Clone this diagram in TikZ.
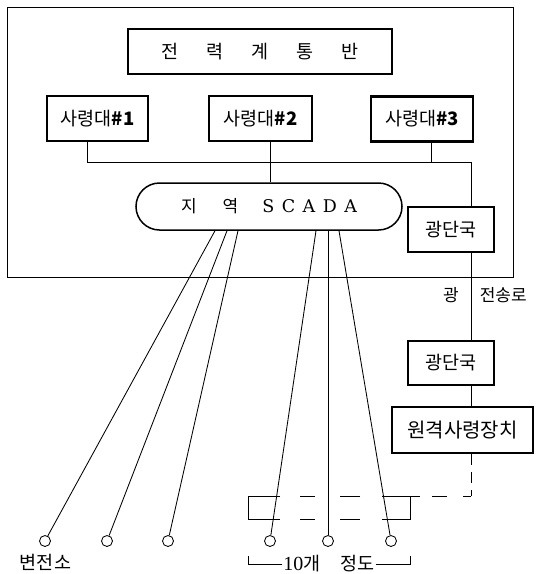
\documentclass[tikz,border=0pt]{standalone}
\usepackage{fontspec}
\newfontfamily\kr{Noto Sans CJK KR}
\newfontfamily\latserif{DejaVu Serif}
\newfontfamily\numserif{Liberation Serif}
\usetikzlibrary{shapes.misc}
\begin{document}
\begin{tikzpicture}[x=1pt,y=-1pt,
  box/.style={draw, line width=2.1pt, inner sep=0pt, font=\kr\fontsize{18.5}{20}\selectfont},
  thinline/.style={line width=0.85pt},
  stn/.style={draw, circle, line width=0.85pt, minimum size=11pt, inner sep=0pt},
  lbl/.style={inner sep=1pt, font=\kr\fontsize{18.5}{20}\selectfont}]
\useasboundingbox (0,0) rectangle (540,574);
% outer frame
\draw[thinline] (7,7) rectangle (513,277);
% boxes
\node[box, minimum width=264pt, minimum height=45pt] (title) at (260,51.5)
  {전\hspace{28pt}력\hspace{28pt}계\hspace{28pt}통\hspace{28pt}반};
\node[box, minimum width=101pt, minimum height=45pt] (s1) at (97.5,118.5) {사령대{\bfseries\#1}};
\node[box, minimum width=103pt, minimum height=45pt] (s2) at (260.5,118.5) {사령대{\bfseries\#2}};
\node[box, minimum width=102pt, minimum height=45pt] (s3) at (422,119) {사령대{\bfseries\#3}};
\node[draw, line width=1.5pt, rounded rectangle, minimum width=266pt, minimum height=47pt, inner sep=0pt] (scada) at (269,206.5)
  {{\kr\fontsize{17}{20}\selectfont 지\hspace{26pt}역}\hspace{24pt}{\latserif\fontsize{17.5}{20}\selectfont S\hspace{7.5pt}C\hspace{7.5pt}A\hspace{7.5pt}D\hspace{7.5pt}A}};
\node[box, minimum width=86pt, minimum height=45pt] (g1) at (451,229.5) {광단국};
\node[box, minimum width=86pt, minimum height=44pt] (g2) at (451,363) {광단국};
\node[box, minimum width=141pt, minimum height=46pt, font=\kr\fontsize{20}{22}\selectfont] (remote) at (462.5,430) {원격사령장치};
% stations
\node[stn] (c1) at (45,541) {};
\node[stn] (c2) at (107,541) {};
\node[stn] (c3) at (168,541) {};
\node[stn] (c4) at (270,541) {};
\node[stn] (c5) at (328,541) {};
\node[stn] (c6) at (391,541) {};
% labels
\node[lbl] (lsub) at (45.5,562) {변전소};
\node[lbl, font=\kr\fontsize{17}{18}\selectfont] (lopt) at (485,295) {광\hspace{21pt}전송로};
\node[lbl] (lcnt) at (329,564) {{\numserif\fontsize{20}{20}\selectfont 10}개\hspace{20pt}정도};
% bus
\coordinate (bus1) at (87,162);
\coordinate (bus2) at (471,162);
\draw[thinline] ([xshift=-10.5]s1.south) -- (bus1) -- (bus2) -- ([xshift=20]g1.north);
\draw[thinline] ([xshift=9.5]s2.south) -- ([xshift=9.5]s2.south |- scada.north);
\draw[thinline] ([xshift=9]s3.south) -- ([xshift=9]s3.south |- bus1);
\draw[thinline] ([xshift=20]g1.south) -- ([xshift=20]g2.north);
\draw[thinline] ([xshift=20]g2.south) -- ([xshift=20]g2.south |- remote.north);
% scada to stations
\draw[thinline] ([xshift=-54]scada.south) -- (c1);
\draw[thinline] ([xshift=-42]scada.south) -- (c2);
\draw[thinline] ([xshift=-31]scada.south) -- (c3);
\draw[thinline] ([xshift=47]scada.south) -- (c4);
\draw[thinline] ([xshift=59]scada.south) -- (c5);
\draw[thinline] ([xshift=70]scada.south) -- (c6);
% dashed remote link and group box
\coordinate (dc) at (471,496);
\draw[thinline, dash pattern=on 11pt off 7pt] ([xshift=8.5]remote.south) -- (dc);
\draw[thinline] (dc) -- (463,496);
\draw[thinline] (447,496) -- (432,496);
\draw[thinline] (420,496) -- (382,496);
\draw[thinline] (360,496) -- (340,496);
\draw[thinline] (315,496) -- (300,496);
\draw[thinline] (280,496) -- (248,496) -- (248,519) -- (280,519);
\draw[thinline] (300,519) -- (315,519);
\draw[thinline] (340,519) -- (360,519);
\draw[thinline] (382,519) -- (410,519) -- (410,496);
% count bracket
\coordinate (bl) at (248,556);
\coordinate (br) at (410,556);
\draw[thinline] (lcnt.west) -| (bl);
\draw[thinline] (lcnt.east) -| (br);
\end{tikzpicture}
\end{document}
